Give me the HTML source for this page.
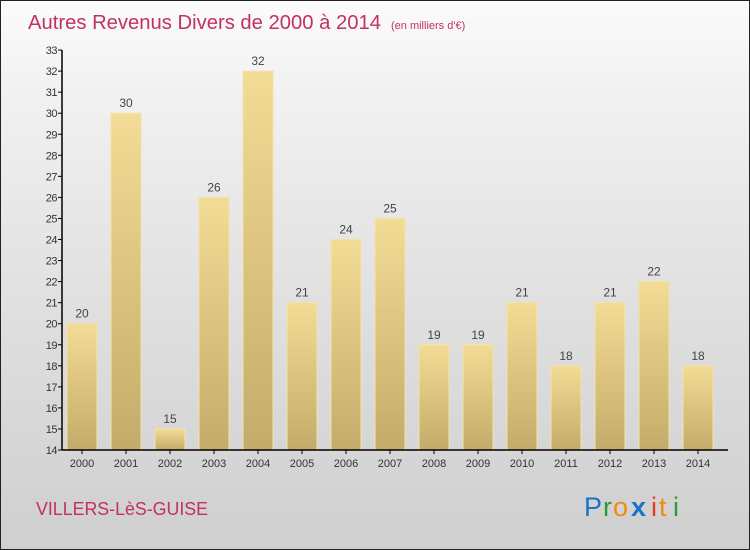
<!DOCTYPE html>
<html><head><meta charset="utf-8"><style>
body{margin:0}
#c{width:748px;height:548px;border:1px solid #222;background:linear-gradient(#fbfbfb,#f2f2f2 15%,#dedede 60%,#cfcfcf);position:relative;overflow:hidden;font-family:"Liberation Sans",sans-serif}
</style></head><body>
<div id="c">
<svg id="s" width="748" height="548">
<defs><linearGradient id="g" x1="0" y1="0" x2="0" y2="1"><stop offset="0" stop-color="#f3dc95"/><stop offset="1" stop-color="#c4ab6a"/></linearGradient></defs>
<text x="27" y="28" font-size="20" fill="#c2315f" textLength="353" lengthAdjust="spacingAndGlyphs">Autres Revenus Divers de 2000 à 2014</text>
<text x="390" y="28" font-size="11" fill="#c2315f">(en milliers d'€)</text>
<text x="35" y="514" font-size="18" fill="#c2315f" textLength="172" lengthAdjust="spacingAndGlyphs">VILLERS-LèS-GUISE</text>
<g font-size="27" font-family="'Liberation Sans',sans-serif">
<text x="583" y="515" fill="#1a73c9">P</text><text x="602" y="515" fill="#2c9a3c">r</text><text x="612" y="515" fill="#f28a12">o</text><text x="630" y="515" fill="#1a73c9" font-weight="bold">x</text><text x="650" y="515" fill="#e63c1e">i</text><text x="658" y="515" fill="#f28a12">t</text><text x="672" y="515" fill="#2c9a3c">i</text></g>
<g id="bars"></g><g id="ax"></g>
</svg></div>
<script>
const years=["2000","2001","2002","2003","2004","2005","2006","2007","2008","2009","2010","2011","2012","2013","2014"];
const values=[20,30,15,26,32,21,24,25,19,19,21,18,21,22,18];
const yTicks=[14,15,16,17,18,19,20,21,22,23,24,25,26,27,28,29,30,31,32,33];
const NS="http://www.w3.org/2000/svg";
const y=v=>449-(v-14)*21.05;
const x=i=>81+i*44;
function el(t,a,p){const e=document.createElementNS(NS,t);for(const k in a)e.setAttribute(k,a[k]);p.appendChild(e);return e;}
const bars=document.getElementById('bars'),ax=document.getElementById('ax');
values.forEach((v,i)=>{
 const r=el('rect',{x:x(i)-15,y:y(v),width:30,height:y(14)-y(v),fill:'url(#g)',stroke:'#f5e2a8','stroke-width':1},bars);
 
 
 const t=el('text',{x:x(i),y:y(v)-6,'text-anchor':'middle','font-size':12,fill:'#444'},bars);t.textContent=v;
 
 
 const xl=el('text',{x:x(i),y:466,'text-anchor':'middle','font-size':11,fill:'#333'},ax);xl.textContent=years[i];
 
 
 el('line',{x1:x(i),x2:x(i),y1:449,y2:453,stroke:'#000'},ax);
});
const a=el('line',{x1:61,x2:61,y1:y(33),y2:449,stroke:'#000','stroke-width':1.5},ax);


const b=el('line',{x1:61,x2:727,y1:449,y2:449,stroke:'#000','stroke-width':1.5},ax);


yTicks.forEach(v=>{
 el('line',{x1:57,x2:61,y1:y(v),y2:y(v),stroke:'#000'},ax);
 const t=el('text',{x:56,y:y(v)+4,'text-anchor':'end','font-size':11,fill:'#333','letter-spacing':'-0.5'},ax);t.textContent=v;
 
 
});
</script></body></html>
